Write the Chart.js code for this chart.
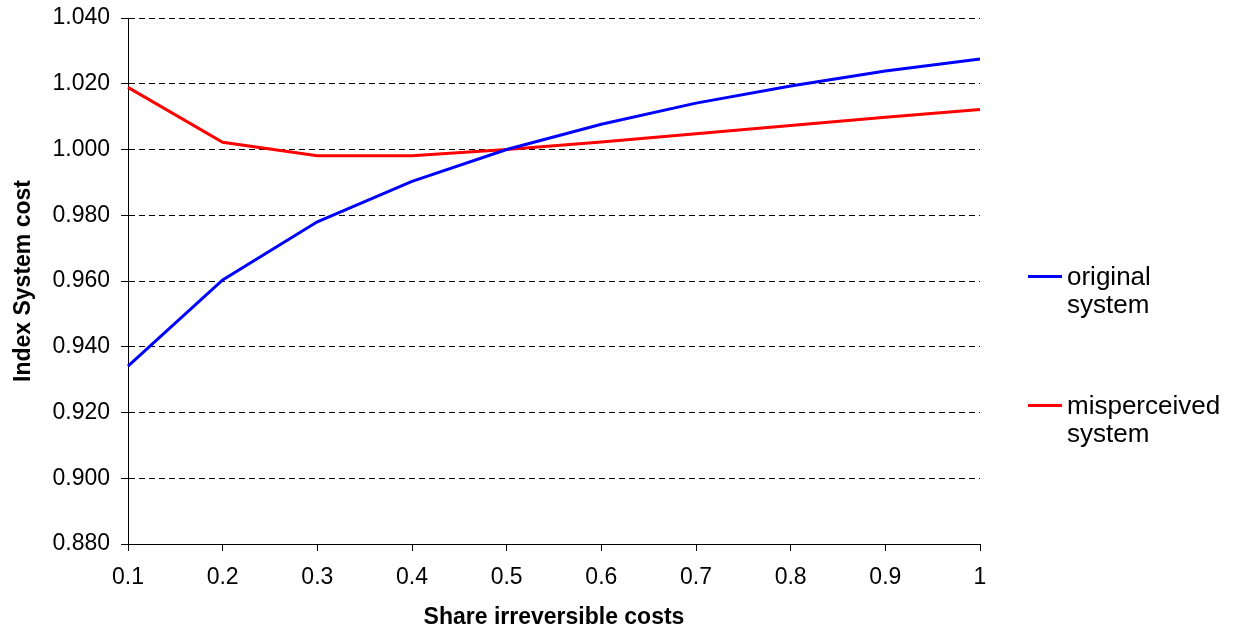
<!DOCTYPE html>
<html>
<head>
<meta charset="utf-8">
<script src="https://cdn.jsdelivr.net/npm/chart.js@4/dist/chart.umd.min.js"></script>
<style>
  html, body { margin: 0; padding: 0; background: #fff; }
  #wrap { width: 1235px; height: 632px; position: relative; }
</style>
</head>
<body>
<div id="wrap"><canvas id="c" width="1235" height="632"></canvas></div>
<script>
const categories = ['0.1', '0.2', '0.3', '0.4', '0.5', '0.6', '0.7', '0.8', '0.9', '1'];
const originalSystem = [0.9341, 0.9603, 0.9780, 0.9903, 1.0000, 1.0077, 1.0141, 1.0193, 1.0239, 1.0275];
const misperceivedSystem = [1.0189, 1.0022, 0.9981, 0.9981, 1.0000, 1.0023, 1.0048, 1.0073, 1.0098, 1.0122];
const seriesNames = ['original\nsystem', 'misperceived\nsystem'];
const yMin = 0.88, yMax = 1.04, yStep = 0.02;
const xTitle = 'Share irreversible costs';
const yTitle = 'Index System cost';

const FONT = "'Liberation Sans', Arial, sans-serif";

const legendPlugin = {
  id: 'sideLegend',
  afterDraw(chart) {
    const ctx = chart.ctx;
    const area = chart.chartArea;
    const baselines = [285, 414];
    ctx.save();
    ctx.font = '26px ' + FONT;
    ctx.textBaseline = 'alphabetic';
    ctx.textAlign = 'left';
    chart.data.datasets.forEach((ds, i) => {
      const by = baselines[i];
      const lx = area.right + 48;
      ctx.strokeStyle = ds.borderColor;
      ctx.lineWidth = 3;
      ctx.beginPath();
      ctx.moveTo(lx, by - 8.5);
      ctx.lineTo(lx + 34, by - 8.5);
      ctx.stroke();
      ctx.fillStyle = '#000';
      ds.label.split('\n').forEach((line, j) => {
        ctx.fillText(line, lx + 39, by + j * 28);
      });
    });
    ctx.restore();
  }
};

new Chart(document.getElementById('c'), {
  type: 'line',
  data: {
    labels: categories,
    datasets: [
      { label: seriesNames[0], data: originalSystem, borderColor: '#0000FF', backgroundColor: '#0000FF', borderWidth: 3, pointRadius: 0, tension: 0, fill: false },
      { label: seriesNames[1], data: misperceivedSystem, borderColor: '#FF0000', backgroundColor: '#FF0000', borderWidth: 3, pointRadius: 0, tension: 0, fill: false }
    ]
  },
  options: {
    responsive: false,
    animation: false,
    devicePixelRatio: 1,
    layout: { padding: { left: 0, right: 255, top: 18, bottom: 0 } },
    plugins: {
      legend: { display: false },
      tooltip: { enabled: false }
    },
    scales: {
      x: {
        type: 'category',
        offset: false,
        grid: { drawOnChartArea: false, drawTicks: true, tickLength: 7, color: '#000', lineWidth: 1 },
        border: { display: true, color: '#000', width: 1 },
        ticks: { color: '#000', font: { family: FONT, size: 23 }, padding: 13, maxRotation: 0, autoSkip: false },
        title: { display: true, text: xTitle, color: '#000', font: { family: FONT, size: 23, weight: 'bold' }, padding: { top: 0, bottom: 1 } },
        afterFit(scale) { scale.height = 88; scale.paddingLeft = 0; scale.paddingRight = 0; }
      },
      y: {
        min: yMin,
        max: yMax,
        grid: { color: '#000', lineWidth: 1, drawTicks: true, tickLength: 7 },
        border: { display: true, color: '#000', width: 1, dash: [6, 4] },
        ticks: {
          stepSize: yStep,
          color: '#000',
          font: { family: FONT, size: 23 },
          padding: 11,
          callback: (v) => Number(v).toFixed(3)
        },
        title: { display: true, text: yTitle, color: '#000', font: { family: FONT, size: 23, weight: 'bold' }, padding: { top: 10, bottom: 0 } },
        afterFit(scale) { scale.width = 128; scale.paddingTop = 0; scale.paddingBottom = 0; }
      }
    }
  },
  plugins: [legendPlugin]
});
</script>
</body>
</html>
